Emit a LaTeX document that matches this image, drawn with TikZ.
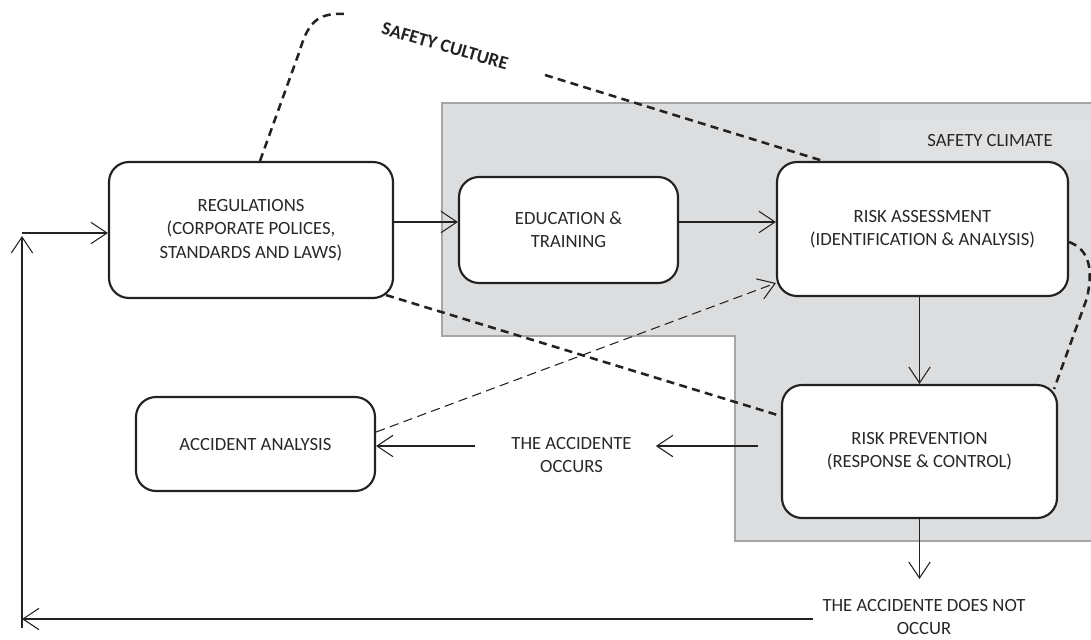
\documentclass[tikz,border=0pt]{standalone}
\usepackage{fontspec}
\setmainfont{Carlito}
\usetikzlibrary{arrows.meta,calc}
\definecolor{climate}{HTML}{DCDDDF}
\definecolor{climateband}{HTML}{E0E1E3}
\definecolor{climateedge}{HTML}{A6A6A6}
\definecolor{ink}{HTML}{222222}
\definecolor{txt}{HTML}{282828}

\begin{document}
\begin{tikzpicture}[x=0.75pt,y=-0.75pt,
  every node/.style={font=\fontsize{14}{17.5}\selectfont},
  box/.style={draw=ink, line width=1.6pt, rounded corners=15pt, fill=white,
    align=center, text=txt, inner sep=0pt},
  lbl/.style={align=center, text=txt, inner sep=0pt},
  arr/.style={draw=ink, line width=0.8pt,
    -{Straight Barb[length=12pt,width=16pt,line width=0.8pt]}},
  darr/.style={arr, dash pattern=on 7pt off 4pt},
  culture/.style={draw=ink, line width=1.9pt, dash pattern=on 6pt off 4pt}
]
\useasboundingbox (0,0) rectangle (1091,639);

% safety climate area (L-shaped, open on the right)
\fill[climate] (442,103) -- (1091,103) -- (1091,541) -- (735,541) -- (735,336) -- (442,336) -- cycle;
\fill[climateband] (880,119) rectangle (1091,160);
\draw[climateedge, line width=0.9pt] (1091,103) -- (442,103) -- (442,336) -- (735,336) -- (735,541) -- (1091,541);
\node[lbl] (climate) at (990,141) {SAFETY CLIMATE};

% main boxes
\node[box, minimum width=213pt, minimum height=102pt] (reg) at (251,230)
  {REGULATIONS\\(CORPORATE POLICES,\\STANDARDS AND LAWS)};
\node[box, minimum width=164.25pt, minimum height=79.5pt] (edu) at (568.5,230)
  {EDUCATION \&\\TRAINING};
\node[box, minimum width=218.25pt, minimum height=100.5pt] (ra) at (922.5,229)
  {RISK ASSESSMENT\\(IDENTIFICATION \& ANALYSIS)};
\node[box, minimum width=206.25pt, minimum height=99.75pt] (rp) at (919.5,451.5)
  {RISK PREVENTION\\(RESPONSE \& CONTROL)};
\node[box, minimum width=179.25pt, minimum height=70.5pt] (aa) at (255.5,444)
  {ACCIDENT ANALYSIS};

% outcome labels
\node[lbl] (occ) at (571.5,455) {THE ACCIDENTE\\OCCURS};
\node[lbl] (nocc) at (924,617) {THE ACCIDENTE DOES NOT\\OCCUR};
\node[lbl, font=\fontsize{14}{17.5}\selectfont\bfseries, rotate=-16, text=ink] (cult) at (445,46) {SAFETY CULTURE};

% feedback loop corners
\coordinate (ya) at (0,446);
\coordinate (fb) at (22,619);
\coordinate (fbtop) at (22,236);
\coordinate (fbin) at (22,233);

% flow
\draw[arr] ([yshift=6pt]reg.east) -- ([yshift=6pt]edu.west);
\draw[arr] ([yshift=6pt]edu.east) -- ([yshift=5.25pt]ra.west);
\draw[arr] (ra.south -| rp.north) -- (rp.north);
\draw[arr] ([xshift=-17pt]rp.west |- ya) -- ([xshift=18pt]occ.east |- ya);
\draw[arr] ([xshift=-27pt]occ.west |- ya) -- (aa.east |- ya);
\draw[darr] ([yshift=9pt]aa.east) -- ([yshift=-40.5pt]ra.west);
\draw[arr] (rp.south) -- ([yshift=15pt]rp.south |- nocc.north);
\draw[arr] ([xshift=-7pt]nocc.west |- fb) -- (fb);
\draw[draw=ink, line width=0.8pt] (fb) -- (22,628);
\draw[arr] (fb) -- (fbtop);
\draw[arr] (fbin) -- ([yshift=-2.25pt]reg.west);

% safety culture boundary
\coordinate (cul1) at (345,14);
\coordinate (cul2) at (545,75);
\draw[culture] ([xshift=6.75pt]reg.north) -- (300,50) .. controls (309,18) and (322,13) .. (cul1);
\draw[culture] (cul2) -- ([xshift=-74.6pt]ra.north);
\draw[culture] ([xshift=-6pt,yshift=3pt]reg.south east) -- ([yshift=26.6pt]rp.west);
\draw[culture] ([yshift=-9.75pt]ra.east) .. controls (1090,250) and (1093,270) .. (1087,298)
  -- ([xshift=-3pt,yshift=-3.75pt]rp.north east);
\end{tikzpicture}
\end{document}
